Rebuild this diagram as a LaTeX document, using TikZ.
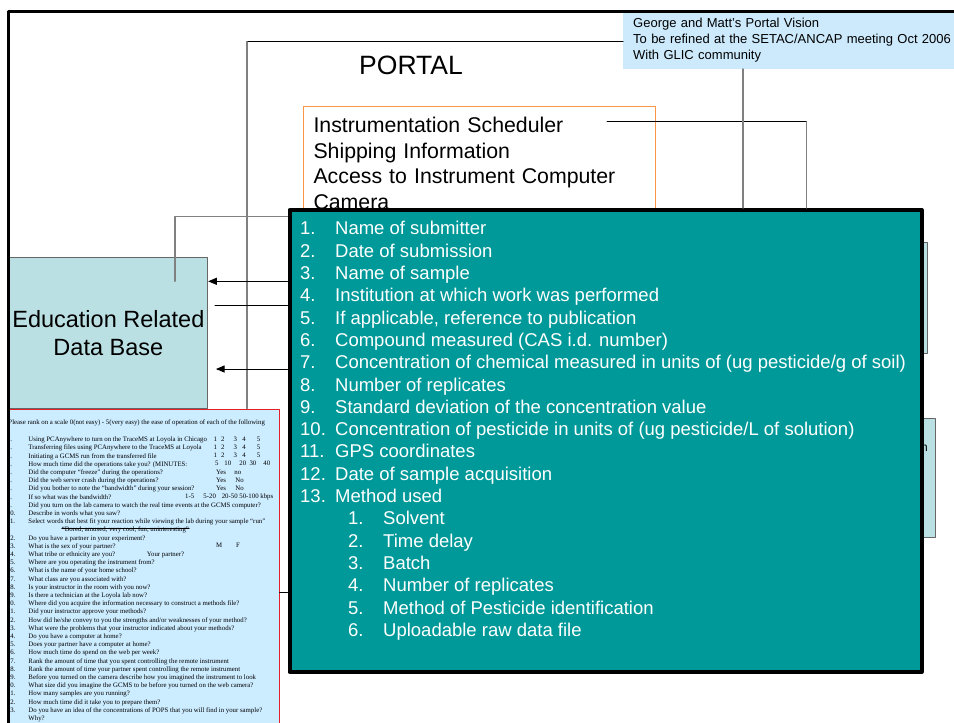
\documentclass[tikz,border=0pt]{standalone}
\usepackage{fontspec}
\setmainfont{Liberation Sans}
\newfontfamily\survfont{Liberation Serif}
\usepackage{xcolor}
\usepackage{tikz}
\usetikzlibrary{arrows}
\definecolor{tealbox}{RGB}{0,153,153}
\definecolor{edufill}{RGB}{187,224,227}
\definecolor{survfill}{RGB}{204,236,255}
\definecolor{notefill}{RGB}{204,234,252}
\definecolor{schedline}{RGB}{250,150,70}
\definecolor{survline}{RGB}{230,30,40}
\newcommand{\qn}[1]{\makebox[21.6pt][l]{#1}}
\newcommand{\listno}[1]{\makebox[35pt][l]{#1}}
\newcommand{\subno}[1]{\hspace*{48pt}\makebox[35pt][l]{#1}}

\begin{document}
\begin{tikzpicture}[line cap=round,line join=round,>=triangle 45,x=1pt,y=-1pt,
  thinline/.style={line width=1pt},
  grayline/.style={line width=1.2pt,color=gray},
  notebox/.style={fill=notefill,anchor=north west,text width=330pt,inner xsep=10pt,inner ysep=7pt,align=left,font=\fontsize{13}{15.7}\selectfont},
  schedbox/.style={draw=schedline,fill=white,line width=1pt,anchor=north west,text width=332pt,inner xsep=10pt,inner ysep=11pt,align=left,font=\fontsize{21.3}{25.5}\selectfont},
  listbox/.style={draw=black,fill=tealbox,line width=4pt,anchor=north west,minimum width=632pt,minimum height=462pt},
  listtext/.style={text=white,anchor=north west,inner sep=0pt,align=left,font=\fontsize{18.5}{22.3}\selectfont},
  edubox/.style={draw=gray!80!black,fill=edufill,line width=1pt,anchor=north west,align=center},
  survbox/.style={draw=survline,fill=survfill,line width=1.2pt,anchor=north west,minimum width=270pt,minimum height=330pt},
  survtext/.style={anchor=north west,inner sep=0pt,align=left,font=\survfont\fontsize{6.8}{8.2}\selectfont},
  ratetext/.style={anchor=base west,inner sep=0pt,font=\survfont\fontsize{6.8}{8.2}\selectfont}]
\useasboundingbox (0,0) rectangle (954,723);
\clip (0,0) rectangle (954,723);
% portal boxes
\node[notebox] (note) at (623,11) {George and Matt’s Portal Vision\\To be refined at the SETAC/ANCAP meeting Oct 2006\\With GLIC community};
\node[font=\fontsize{26.5}{30}\selectfont] (portal) at (411,65) {PORTAL};
\node[schedbox] (sched) at (303,106) {Instrumentation Scheduler\\Shipping Information\\Access to Instrument Computer\\Camera};
\node[edubox,minimum width=198pt,minimum height=151pt,font=\fontsize{23.5}{27.5}\selectfont] (edu) at (8.5,257.3) {Education Related\\Data Base};
\node[edubox,minimum width=30pt,minimum height=111.6pt] (sideA) at (897,241.7) {};
\node[edubox,minimum width=38pt,minimum height=119pt] (sideB) at (897,418.3) {};
\node[anchor=east,inner sep=0pt,font=\fontsize{12}{14}\selectfont] (sidetext) at (928,448) {n};
% survey sheet
\node[survbox] (surv) at (8.5,408.5) {};
\begin{scope}
\clip (surv.north west) rectangle (surv.south east);
\node[survtext,anchor=base west] (survhead) at (8.3,424.3) {Please rank on a scale 0(not easy) - 5(very easy) the ease of operation of each of the following};
\node[survtext] (survlist) at (6.7,436.7) {\qn{1.}Using PCAnywhere to turn on the TraceMS at Loyola in Chicago\\
\qn{2.}Transferring files using PCAnywhere to the TraceMS at Loyola\\
\qn{3.}Initiating a GCMS run from the transferred file\\
\qn{4.}How much time did the operations take you? (MINUTES:\\
\qn{5.}Did the computer “freeze” during the operations?\\
\qn{6.}Did the web server crash during the operations?\\
\qn{7.}Did you bother to note the “bandwidth” during your session?\\
\qn{8.}If so what was the bandwidth?\\
\qn{9.}Did you turn on the lab camera to watch the real time events at the GCMS computer?\\
\qn{10.}Describe in words what you saw?\\
\qn{11.}Select words that best fit your reaction while viewing the lab during your sample “run”\\
\mbox{}\\
\qn{12.}Do you have a partner in your experiment?\\
\qn{13.}What is the sex of your partner?\\
\qn{14.}What tribe or ethnicity are you?\\
\qn{15.}Where are you operating the instrument from?\\
\qn{16.}What is the name of your home school?\\
\qn{17.}What class are you associated with?\\
\qn{18.}Is your instructor in the room with you now?\\
\qn{19.}Is there a technician at the Loyola lab now?\\
\qn{20.}Where did you acquire the information necessary to construct a methods file?\\
\qn{21.}Did your instructor approve your methods?\\
\qn{22.}How did he/she convey to you the strengths and/or weaknesses of your method?\\
\qn{23.}What were the problems that your instructor indicated about your methods?\\
\qn{24.}Do you have a computer at home?\\
\qn{25.}Does your partner have a computer at home?\\
\qn{26.}How much time do spend on the web per week?\\
\qn{27.}Rank the amount of time that you spent controlling the remote instrument\\
\qn{28.}Rank the amount of time your partner spent controlling the remote instrument\\
\qn{29.}Before you turned on the camera describe how you imagined the instrument to look\\
\qn{30.}What size did you imagine the GCMS to be before you turned on the web camera?\\
\qn{31.}How many samples are you running?\\
\qn{32.}How much time did it take you to prepare them?\\
\qn{33.}Do you have an idea of the concentrations of POPS that you will find in your sample?\\
\qn{}Why?};
\node[ratetext] (strike) at (61.7,531.5) {“Bored, amused, very cool, fun, uninteresting”};
\draw[line width=0.8pt] (strike.mid west) -- (strike.mid east);
\node[ratetext] (rate1) at (213.3,441.3) {1\hspace{4.3pt}2\hspace{8.9pt}3\hspace{5.6pt}4\hspace{11pt}5};
\node[ratetext] (rate2) at (213.3,449.5) {1\hspace{4.3pt}2\hspace{8.9pt}3\hspace{5.6pt}4\hspace{11pt}5};
\node[ratetext] (rate3) at (213.3,457.7) {1\hspace{4.3pt}2\hspace{8.9pt}3\hspace{5.6pt}4\hspace{11pt}5};
\node[ratetext] (rate4) at (215,465.9) {5\hspace{5.9pt}10\hspace{8.2pt}20\hspace{3.2pt}30\hspace{7.2pt}40};
\node[ratetext] (rate5) at (216,474.1) {Yes\hspace{8.4pt}no};
\node[ratetext] (rate6) at (216,482.3) {Yes\hspace{9.4pt}No};
\node[ratetext] (rate7) at (216,490.5) {Yes\hspace{9.4pt}No};
\node[ratetext] (rate8) at (185,498.7) {1-5\hspace{9.2pt}5-20\hspace{5.9pt}20-50 50-100 kbps};
\node[ratetext] (rate13) at (216,547.9) {M\hspace{14pt}F};
\node[ratetext] (rate14) at (146.7,556.1) {Your partner?};
\end{scope}
% connectors
\coordinate (portalcorner) at (247,41.7);
\draw[thinline] (note.west |- portalcorner) -- (portalcorner);
\draw[grayline] (portalcorner) -- (portalcorner |- surv.north);
\coordinate (notedrop) at (743,0);
\coordinate (schedstart) at (607,121.7);
\coordinate (schedcorner) at (806.7,121.7);
\draw[thinline] (schedstart) -- (schedcorner);
\coordinate (educorner) at (175,216.7);
\coordinate (edudrop) at (175,281.3);
\coordinate (edugap) at (215,305);
\coordinate (edutip) at (216,369);
\coordinate (survtie) at (0,592.7);
% data list
\node[listbox] (list) at (287.5,208) {};
\node[listtext] (items) at (300,221.3) {\listno{1.}Name of submitter\\
\listno{2.}Date of submission\\
\listno{3.}Name of sample\\
\listno{4.}Institution at which work was performed\\
\listno{5.}If applicable, reference to publication\\
\listno{6.}Compound measured (CAS i.d. number)\\
\listno{7.}Concentration of chemical measured in units of (ug pesticide/g of soil)\\
\listno{8.}Number of replicates\\
\listno{9.}Standard deviation of the concentration value\\
\listno{10.}Concentration of pesticide in units of (ug pesticide/L of solution)\\
\listno{11.}GPS coordinates\\
\listno{12.}Date of sample acquisition\\
\listno{13.}Method used\\
\subno{1.}Solvent\\
\subno{2.}Time delay\\
\subno{3.}Batch\\
\subno{4.}Number of replicates\\
\subno{5.}Method of Pesticide identification\\
\subno{6.}Uploadable raw data file};
\draw[grayline] (notedrop |- note.south) -- (notedrop |- list.north);
\draw[grayline] (schedcorner) -- (schedcorner |- list.north);
\draw[grayline] (list.west |- educorner) -- (educorner) -- (edudrop);
\draw[thinline,->] (list.west |- edudrop) -- (edu.east |- edudrop);
\draw[thinline] (list.west |- edugap) -- (edugap);
\draw[thinline,->] (list.west |- edutip) -- (edutip);
\draw[thinline] (surv.east |- survtie) -- (list.west |- survtie);
% outer frame
\draw[line width=3pt] (8.5,11) rectangle (990,760);
\end{tikzpicture}
\end{document}
